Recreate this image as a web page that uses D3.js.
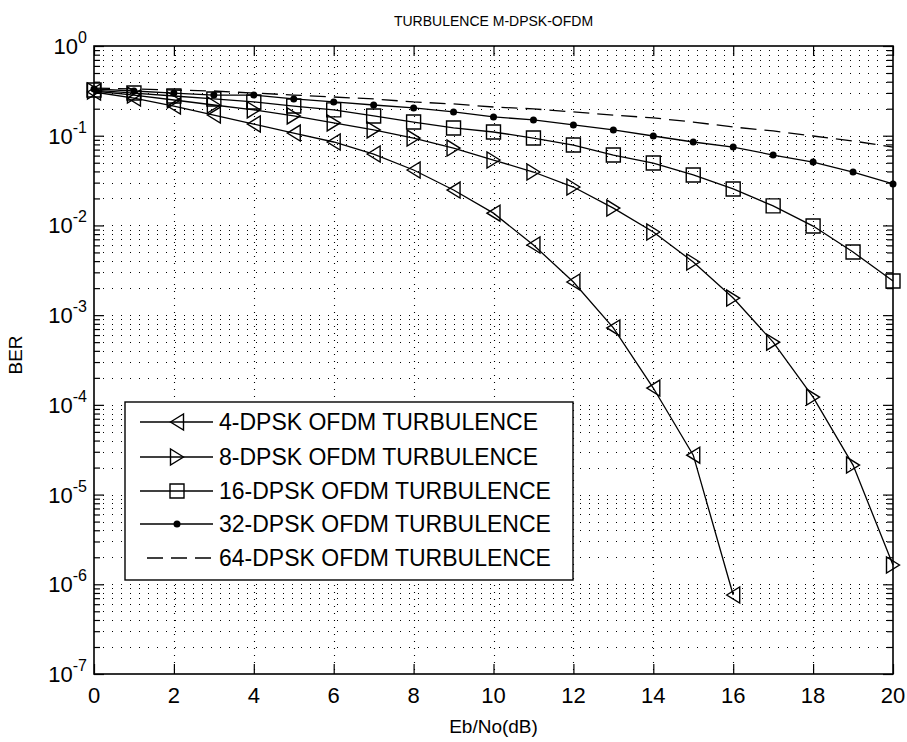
<!DOCTYPE html>
<html><head><meta charset="utf-8">
<script src="https://cdn.jsdelivr.net/npm/d3@7"></script>
<style>body{margin:0;background:#fff}</style>
</head><body>
<svg id="c" width="907" height="742"></svg>
<script>
const ebno = [0,1,2,3,4,5,6,7,8,9,10,11,12,13,14,15,16,17,18,19,20];
const ber4dpsk = [0.307,0.263,0.214,0.170,0.135,0.107,0.0851,0.0625,0.0415,0.0248,0.0137,0.00605,0.00234,7.2e-4,1.54e-4,2.75e-5,7.6e-7];
const ber8dpsk = [0.315,0.284,0.250,0.220,0.194,0.166,0.139,0.116,0.0942,0.0729,0.0536,0.0394,0.0268,0.0156,0.00845,0.00391,0.00155,5.0e-4,1.22e-4,2.13e-5,1.64e-6];
const ber16dpsk = [0.323,0.299,0.277,0.257,0.238,0.214,0.194,0.166,0.142,0.122,0.110,0.0942,0.0787,0.0609,0.0496,0.0365,0.0255,0.0165,0.00984,0.00505,0.0024];
const ber32dpsk = [0.332,0.315,0.299,0.284,0.284,0.257,0.238,0.220,0.204,0.184,0.162,0.150,0.132,0.116,0.0993,0.0851,0.0748,0.0609,0.0509,0.0394,0.0290];
const ber64dpsk = [0.340,0.332,0.323,0.315,0.299,0.284,0.270,0.257,0.238,0.226,0.209,0.199,0.184,0.170,0.158,0.142,0.125,0.113,0.0993,0.0873,0.0748];
const seriesNames = ["4-DPSK OFDM TURBULENCE","8-DPSK OFDM TURBULENCE","16-DPSK OFDM TURBULENCE","32-DPSK OFDM TURBULENCE","64-DPSK OFDM TURBULENCE"];
const xTickValues = [0,2,4,6,8,10,12,14,16,18,20];
const yDecadeExponents = [0,-1,-2,-3,-4,-5,-6,-7];
const titleText = "TURBULENCE M-DPSK-OFDM";
const xLabelText = "Eb/No(dB)";
const yLabelText = "BER";

const L=94,R=893,T=46,B=674;
const svg = d3.select("#c");
const FONT = "'Liberation Sans', Arial, sans-serif";
const x = d3.scaleLinear().domain([0,20]).range([L,R]);
const y = d3.scaleLog().domain([1e-7,1]).range([B,T]);

const minorVals = [];
for (let e=-7;e<0;e++) for (let m=2;m<=9;m++) minorVals.push(m*Math.pow(10,e));
const decadeVals = yDecadeExponents.map(e=>Math.pow(10,e));

// grid
const grid = svg.append("g").attr("stroke","#000").attr("stroke-width",1.1);
grid.selectAll("line.h").data(minorVals.concat(decadeVals.filter(v=>v<1&&v>1e-7))).enter().append("line")
  .attr("x1",L).attr("x2",R).attr("y1",d=>Math.round(y(d))+0.5).attr("y2",d=>Math.round(y(d))+0.5)
  .attr("stroke-dasharray","1,8");
grid.selectAll("line.v").data(xTickValues.filter(v=>v>0&&v<20)).enter().append("line")
  .attr("y1",T).attr("y2",B).attr("x1",d=>Math.round(x(d))+0.5).attr("x2",d=>Math.round(x(d))+0.5)
  .attr("stroke-dasharray","1,6");

function styleAxis(g){ g.select(".domain").remove(); g.selectAll("line").attr("stroke","#000").attr("stroke-width",1.2); g.selectAll("text").remove(); }
svg.append("g").attr("transform",`translate(0,${B})`).call(d3.axisBottom(x).tickValues(xTickValues).tickSize(-10)).call(styleAxis);
svg.append("g").attr("transform",`translate(0,${T})`).call(d3.axisTop(x).tickValues(xTickValues).tickSize(-10)).call(styleAxis);
svg.append("g").attr("transform",`translate(${L},0)`).call(d3.axisLeft(y).tickValues(minorVals).tickSize(-6)).call(styleAxis);
svg.append("g").attr("transform",`translate(${L},0)`).call(d3.axisLeft(y).tickValues(decadeVals).tickSize(-10)).call(styleAxis);
svg.append("g").attr("transform",`translate(${R},0)`).call(d3.axisRight(y).tickValues(minorVals).tickSize(-6)).call(styleAxis);
svg.append("g").attr("transform",`translate(${R},0)`).call(d3.axisRight(y).tickValues(decadeVals).tickSize(-10)).call(styleAxis);

svg.append("rect").attr("x",L).attr("y",T).attr("width",R-L).attr("height",B-T)
  .attr("fill","none").attr("stroke","#000").attr("stroke-width",1.6);

svg.append("g").selectAll("text").data(xTickValues).enter().append("text")
  .attr("x",d=>x(d)).attr("y",B+29).attr("text-anchor","middle")
  .attr("font-family",FONT).attr("font-size",22).text(d=>d);
const yl = svg.append("g").selectAll("text").data(yDecadeExponents).enter().append("text")
  .attr("x",L-7).attr("y",d=>y(Math.pow(10,d))+8).attr("text-anchor","end")
  .attr("font-family",FONT).attr("font-size",22);
yl.append("tspan").text("10");
yl.append("tspan").attr("dy",-11).attr("font-size",16).text(d=>d===0?"0":"-"+Math.abs(d));

svg.append("text").attr("x",(L+R)/2).attr("y",26).attr("text-anchor","middle")
  .attr("font-family",FONT).attr("font-size",14).text(titleText);
svg.append("text").attr("x",(L+R)/2).attr("y",733).attr("text-anchor","middle")
  .attr("font-family",FONT).attr("font-size",19).text(xLabelText);
svg.append("text").attr("transform",`translate(22,${(T+B)/2 - 5}) rotate(-90)`).attr("text-anchor","middle")
  .attr("font-family",FONT).attr("font-size",19).text(yLabelText);

const markerPath = {
  left: "M-6.5,0L6.5,-8L6.5,8Z",
  right: "M6.5,0L-6.5,-8L-6.5,8Z",
  square: "M-7,-7L7,-7L7,7L-7,7Z"
};
const series = [
  {name:seriesNames[0], vals:ber4dpsk, marker:"left", dash:null},
  {name:seriesNames[1], vals:ber8dpsk, marker:"right", dash:null},
  {name:seriesNames[2], vals:ber16dpsk, marker:"square", dash:null},
  {name:seriesNames[3], vals:ber32dpsk, marker:"dot", dash:null},
  {name:seriesNames[4], vals:ber64dpsk, marker:null, dash:"16,8"}
];
const line = d3.line().x((d,i)=>x(ebno[i])).y(d=>y(d));
function drawMarker(g, m){
  if (m==="dot") g.append("circle").attr("r",3.5).attr("fill","#000");
  else if (m) g.append("path").attr("d",markerPath[m]).attr("fill","none").attr("stroke","#000").attr("stroke-width",1.4);
}
series.forEach(s=>{
  svg.append("path").datum(s.vals).attr("d",line).attr("fill","none").attr("stroke","#000")
    .attr("stroke-width",1.3).attr("stroke-dasharray",s.dash);
  if (s.marker){
    s.vals.forEach((v,i)=>{
      const g = svg.append("g").attr("transform",`translate(${x(ebno[i])},${y(v)})`);
      drawMarker(g, s.marker);
    });
  }
});

const lg = svg.append("g");
lg.append("rect").attr("x",125).attr("y",402).attr("width",448).attr("height",178)
  .attr("fill","#fff").attr("stroke","#000").attr("stroke-width",1.4);
const rowY = [422,457,491,524,558];
series.forEach((s,i)=>{
  const yy = rowY[i];
  lg.append("line").attr("x1",s.dash?147:140).attr("x2",213).attr("y1",yy).attr("y2",yy)
    .attr("stroke","#000").attr("stroke-width",1.3).attr("stroke-dasharray",s.dash);
  if (s.marker){ const g = lg.append("g").attr("transform",`translate(177,${yy})`); drawMarker(g,s.marker); }
  lg.append("text").attr("x",219).attr("y",yy+8).attr("font-family",FONT).attr("font-size",23).text(s.name);
});
</script>
</body></html>
